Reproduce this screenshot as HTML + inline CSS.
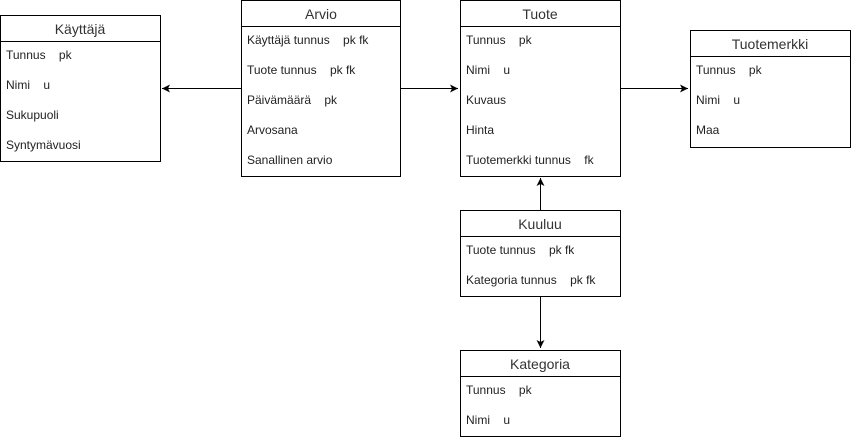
<!DOCTYPE html>
<html><head><meta charset="utf-8"><style>
html,body{margin:0;padding:0;background:#fff;}
svg text{font-family:"Liberation Sans",Arial,sans-serif;white-space:pre;fill:#000;}
.h{font-size:14px;text-anchor:middle;fill:#333;}
.r{font-size:12px;fill:#222;}
</style></head><body>
<svg width="851" height="440" xmlns="http://www.w3.org/2000/svg">
<defs><marker id="a" markerWidth="10" markerHeight="10" refX="8" refY="4" orient="auto" markerUnits="userSpaceOnUse"><path d="M0,0 L8,4 L0,8 L2,4 Z" fill="#000"/></marker></defs>
<g fill="#fff" stroke="#000" stroke-width="1">
<rect x="0.5" y="15.5" width="160" height="146"/><line x1="0.5" y1="41.5" x2="160.5" y2="41.5"/>
<rect x="241.5" y="0.5" width="159" height="176"/><line x1="241.5" y1="26.5" x2="400.5" y2="26.5"/>
<rect x="460.5" y="0.5" width="160" height="176"/><line x1="460.5" y1="26.5" x2="620.5" y2="26.5"/>
<rect x="690.5" y="30.5" width="160" height="117"/><line x1="690.5" y1="56.5" x2="850.5" y2="56.5"/>
<rect x="460.5" y="210.5" width="160" height="86"/><line x1="460.5" y1="236.5" x2="620.5" y2="236.5"/>
<rect x="460.5" y="350.5" width="160" height="86"/><line x1="460.5" y1="376.5" x2="620.5" y2="376.5"/>
</g>
<g stroke="#000" stroke-width="1" fill="none">
<line x1="241" y1="88.5" x2="162" y2="88.5" marker-end="url(#a)"/>
<line x1="401" y1="88.5" x2="458" y2="88.5" marker-end="url(#a)"/>
<line x1="621" y1="88.5" x2="688" y2="88.5" marker-end="url(#a)"/>
<line x1="540.5" y1="210" x2="540.5" y2="178" marker-end="url(#a)"/>
<line x1="540.5" y1="297" x2="540.5" y2="348" marker-end="url(#a)"/>
</g>
<text class="h" x="80" y="34">Käyttäjä</text>
<text class="r" x="6" y="59">Tunnus    pk</text>
<text class="r" x="6" y="89">Nimi    u</text>
<text class="r" x="6" y="119">Sukupuoli</text>
<text class="r" x="6" y="149">Syntymävuosi</text>
<text class="h" x="321" y="19">Arvio</text>
<text class="r" x="247" y="44">Käyttäjä tunnus    pk fk</text>
<text class="r" x="247" y="74">Tuote tunnus    pk fk</text>
<text class="r" x="247" y="104">Päivämäärä    pk</text>
<text class="r" x="247" y="134">Arvosana</text>
<text class="r" x="247" y="164">Sanallinen arvio</text>
<text class="h" x="540" y="19">Tuote</text>
<text class="r" x="466" y="44">Tunnus    pk</text>
<text class="r" x="466" y="74">Nimi    u</text>
<text class="r" x="466" y="104">Kuvaus</text>
<text class="r" x="466" y="134">Hinta</text>
<text class="r" x="466" y="164">Tuotemerkki tunnus    fk</text>
<text class="h" x="770" y="49">Tuotemerkki</text>
<text class="r" x="696" y="74">Tunnus    pk</text>
<text class="r" x="696" y="104">Nimi    u</text>
<text class="r" x="696" y="134">Maa</text>
<text class="h" x="540" y="229">Kuuluu</text>
<text class="r" x="466" y="254">Tuote tunnus    pk fk</text>
<text class="r" x="466" y="284">Kategoria tunnus    pk fk</text>
<text class="h" x="540" y="369">Kategoria</text>
<text class="r" x="466" y="394">Tunnus    pk</text>
<text class="r" x="466" y="424">Nimi    u</text>
</svg>
</body></html>
